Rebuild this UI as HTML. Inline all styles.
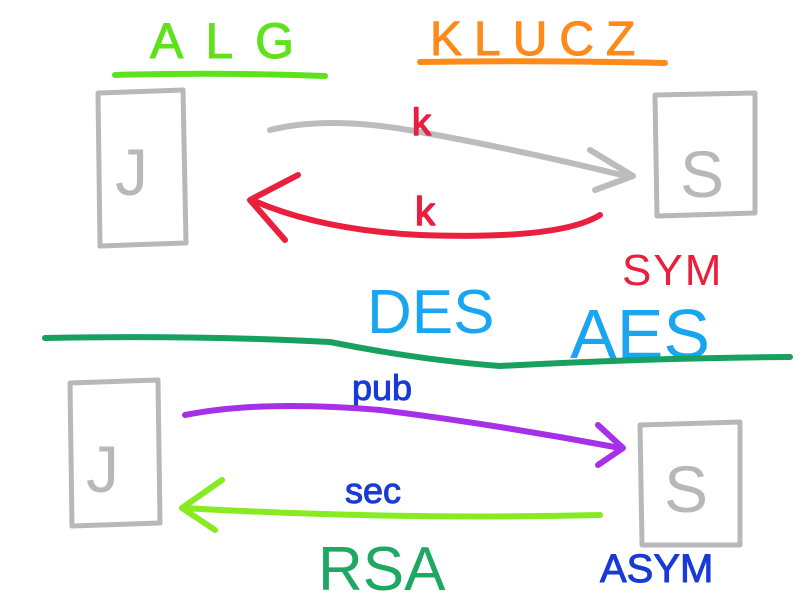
<!DOCTYPE html>
<html><head><meta charset="utf-8"><style>
html,body{margin:0;padding:0;background:#fff;width:800px;height:600px;overflow:hidden}
svg{display:block}
text{font-family:"Liberation Sans",sans-serif}
</style></head><body>
<svg width="800" height="600" viewBox="0 0 800 600" xmlns="http://www.w3.org/2000/svg" fill="none" stroke-linecap="round" stroke-linejoin="round">
<text x="150" y="58" font-size="50" fill="#5fe21c" letter-spacing="22" stroke="#5fe21c" stroke-width="1">ALG</text>
<path d="M115 75 Q220 72 325 76" stroke="#5fe21c" stroke-width="6"/>
<text x="430" y="55" font-size="48" fill="#ff8a1a" letter-spacing="12" stroke="#ff8a1a" stroke-width="1">KLUCZ</text>
<path d="M420 62 Q540 60 665 63" stroke="#ff8a1a" stroke-width="6"/>

<path d="M98 93 L183 90 L186 243 L100 246 Z" stroke="#b8b8b8" stroke-width="5"/>
<text x="115" y="195" font-size="66" fill="#b8b8b8">J</text>
<path d="M655 95 L755 93 L755 213 L657 216 Z" stroke="#b8b8b8" stroke-width="5"/>
<text x="680" y="197" font-size="66" fill="#b8b8b8">S</text>

<path d="M270 130 Q330 115 420 132 Q520 150 630 177" stroke="#bcbcbc" stroke-width="6"/>
<path d="M590 150 L633 176 L595 190" stroke="#bcbcbc" stroke-width="6"/>
<text x="412" y="135" font-size="38" fill="#e8203e" stroke="#e8203e" stroke-width="1.5">k</text>

<path d="M600 215 Q560 240 420 235 Q320 230 252 200" stroke="#e8203e" stroke-width="6"/>
<path d="M298 175 L250 200 L285 240" stroke="#e8203e" stroke-width="6"/>
<text x="415" y="225" font-size="40" fill="#e8203e" stroke="#e8203e" stroke-width="1.5">k</text>
<text x="622" y="285" font-size="44" fill="#e8203e" letter-spacing="2">SYM</text>

<text x="367" y="333" font-size="62" fill="#1aa5f0">DES</text>
<text x="570" y="358" font-size="70" fill="#1aa5f0">AES</text>

<path d="M45 338 Q200 335 330 342 Q420 360 500 366 Q650 358 790 357" stroke="#17a060" stroke-width="6"/>

<path d="M70 383 L158 380 L160 523 L72 526 Z" stroke="#b8b8b8" stroke-width="5"/>
<text x="86" y="492" font-size="66" fill="#b8b8b8">J</text>
<path d="M640 425 L740 422 L740 545 L642 545 Z" stroke="#b8b8b8" stroke-width="5"/>
<text x="664" y="512" font-size="66" fill="#b8b8b8">S</text>

<text x="352" y="400" font-size="36" fill="#1a3ad6" stroke="#1a3ad6" stroke-width="1">pub</text>
<path d="M185 415 Q260 400 380 410 Q500 425 620 448" stroke="#a630e8" stroke-width="6"/>
<path d="M598 425 L623 448 L598 465" stroke="#a630e8" stroke-width="6"/>

<text x="345" y="503" font-size="36" fill="#1a3ad6" stroke="#1a3ad6" stroke-width="1">sec</text>
<path d="M600 515 Q400 520 182 508" stroke="#88ea22" stroke-width="6"/>
<path d="M222 480 L182 508 L215 530" stroke="#88ea22" stroke-width="6"/>

<text x="318" y="590" font-size="62" fill="#1ea864">RSA</text>
<text x="600" y="582" font-size="40" fill="#1a3ad6" stroke="#1a3ad6" stroke-width="1">ASYM</text>
</svg>
</body></html>
